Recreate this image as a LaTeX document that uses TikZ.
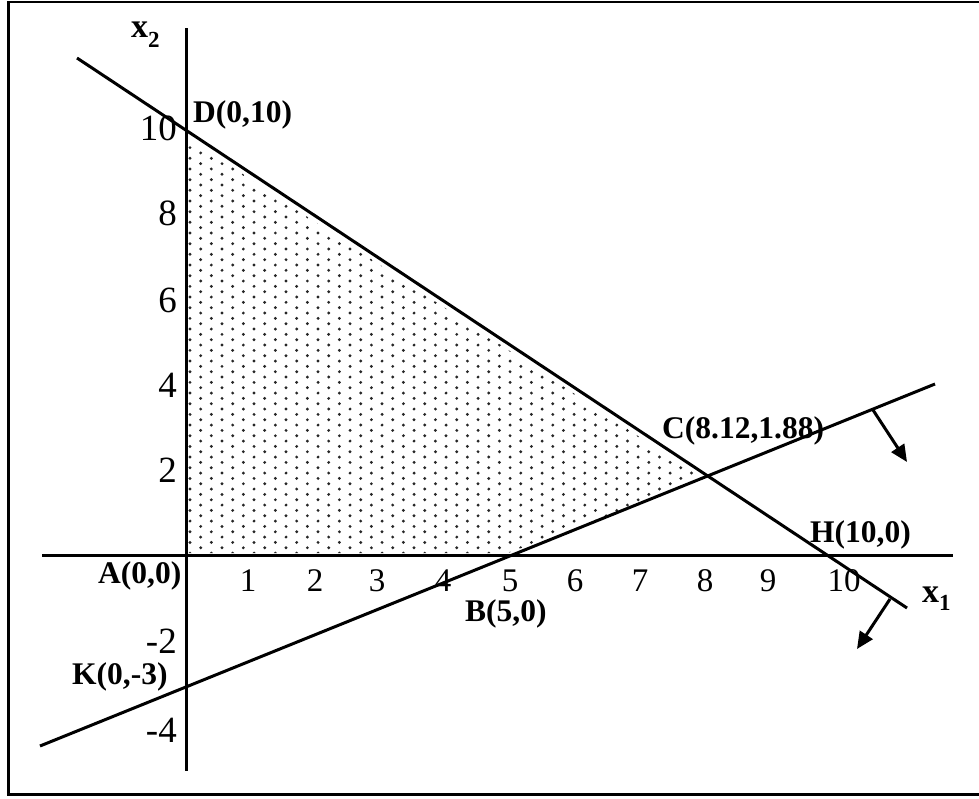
\documentclass[tikz,border=0pt]{standalone}
\usepackage{fontspec}
\setmainfont{Liberation Serif}
\usetikzlibrary{arrows.meta}
\begin{document}
\begin{tikzpicture}[x=1pt,y=-1pt,
  heavy/.style={line width=3pt},
  lbl/.style={font=\fontsize{31.5}{31.5}\selectfont\bfseries, inner sep=0pt, anchor=base west},
  tickx/.style={font=\fontsize{33}{33}\selectfont, inner sep=0pt, anchor=base},
  ticky/.style={font=\fontsize{37}{37}\selectfont, inner sep=0pt, anchor=base east},
  normarrow/.style={heavy,-{Triangle[length=17pt,width=15pt]}}]
\useasboundingbox (0,0) rectangle (979,798);
\fill[white] (0,0) rectangle (979,798);
% frame
\draw[line width=2.2pt] (8.5,2) rectangle (983,794.5);
% shaded feasible region (dots)
\begin{scope}
\clip (187,553) -- (508,553) -- (703,479) -- (187,137) -- cycle;
\foreach \i in {0,...,49}{
  \foreach \j in {0,...,40}{
    \pgfmathsetmacro\px{190+10.67*\i}
    \pgfmathsetmacro\py{126.3+10.67*\j+5.33*mod(\i,2)}
    \fill[black!85] (\px,\py) circle (1.6pt);
  }
}
\end{scope}
% axes
\coordinate (Yt) at (186,28);
\coordinate (Yb) at (186,771);
\coordinate (Xl) at (42,555);
\coordinate (Xr) at (953,555);
\draw[heavy] (Yt) -- (Yb);
\draw[heavy] (Xl) -- (Xr);
% constraint lines
\coordinate (L1a) at (77,58);
\coordinate (L1b) at (907,608);
\coordinate (L2a) at (40,746);
\coordinate (L2b) at (935,384);
\draw[heavy] (L1a) -- (L1b);
\draw[heavy] (L2a) -- (L2b);
% direction arrows
\coordinate (a1s) at (873,410);
\coordinate (a1e) at (907,462);
\coordinate (a2s) at (890,599);
\coordinate (a2e) at (857,649);
\draw[normarrow] (a1s) -- (a1e);
\draw[normarrow] (a2s) -- (a2e);
% axis names
\node[inner sep=0pt, anchor=base west] (x2) at (131,37)
  {\fontsize{34}{34}\selectfont\bfseries x\raisebox{-10pt}{\fontsize{23}{23}\selectfont 2}};
\node[inner sep=0pt, anchor=base west] (x1) at (922,602)
  {\fontsize{34}{34}\selectfont\bfseries x\raisebox{-8pt}{\fontsize{23}{23}\selectfont 1}};
% y ticks
\node[ticky] (y10) at (177,140) {10};
\node[ticky] (y8) at (177,225) {8};
\node[ticky] (y6) at (177,312) {6};
\node[ticky] (y4) at (177,397) {4};
\node[ticky] (y2) at (177,482) {2};
\node[ticky] (ym2) at (177,653) {-2};
\node[ticky] (ym4) at (177,742) {-4};
% x ticks
\node[tickx] (t1) at (248,591) {1};
\node[tickx] (t2) at (315,591) {2};
\node[tickx] (t3) at (377,591) {3};
\node[tickx] (t4) at (443,591) {4};
\node[tickx] (t5) at (510,591) {5};
\node[tickx] (t6) at (575,591) {6};
\node[tickx] (t7) at (640,591) {7};
\node[tickx] (t8) at (705,591) {8};
\node[tickx] (t9) at (768,591) {9};
\node[tickx] (t10) at (844,591) {10};
% point labels
\node[lbl] (D) at (193,122) {D(0,10)};
\node[lbl] (C) at (662,438) {C(8.12,1.88)};
\node[lbl] (H) at (810,542) {H(10,0)};
\node[lbl] (A) at (98,583) {A(0,0)};
\node[lbl] (B) at (465,621) {B(5,0)};
\node[lbl] (K) at (72,684) {K(0,-3)};
\end{tikzpicture}
\end{document}
